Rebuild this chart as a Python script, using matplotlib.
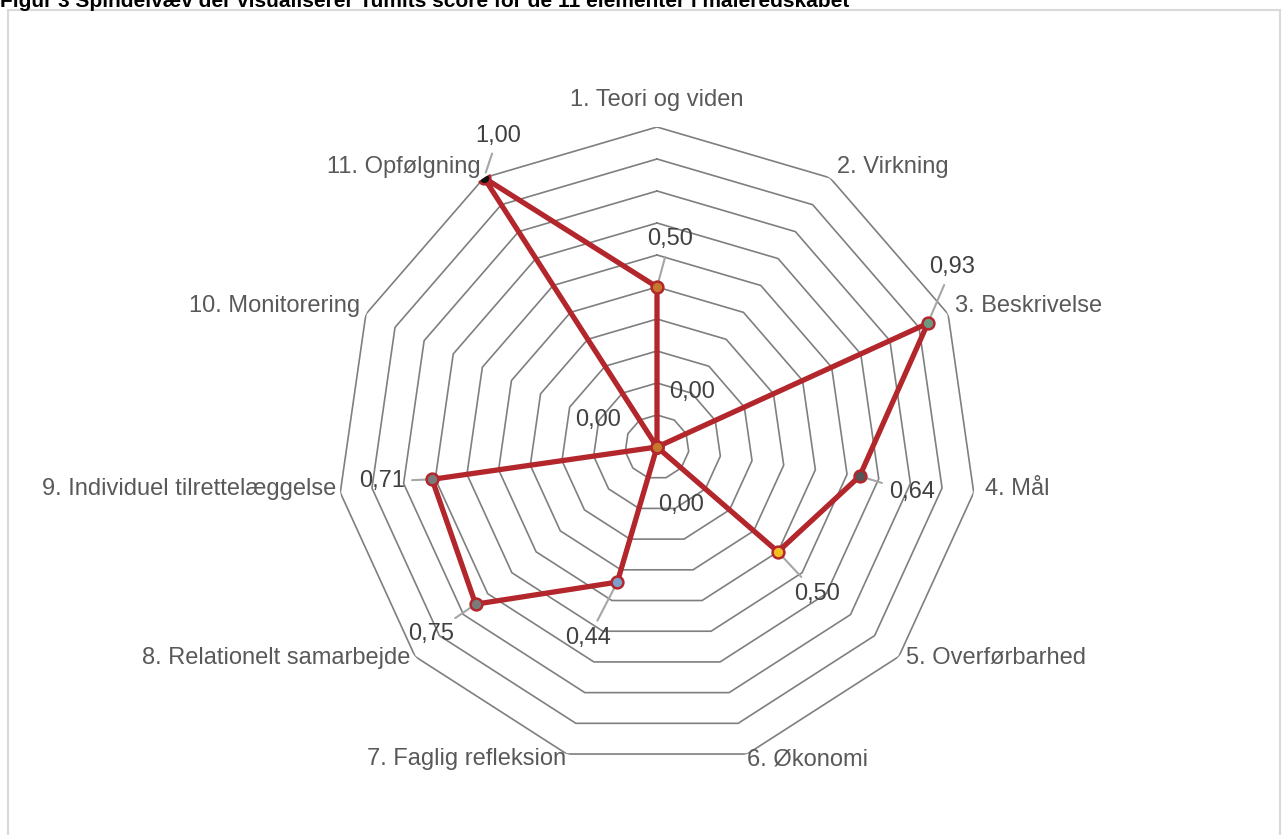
import numpy as np
import matplotlib.pyplot as plt
from matplotlib.patches import Rectangle

plt.rcParams["font.family"] = ["Liberation Sans", "DejaVu Sans"]

# ─────────────────────────────────────────────
# Spindelvæv — Tumits score for 11 elementer
# ─────────────────────────────────────────────

categories = ["1. Teori og viden", "2. Virkning", "3. Beskrivelse", "4. Mål",
              "5. Overførbarhed", "6. Økonomi", "7. Faglig refleksion",
              "8. Relationelt samarbejde", "9. Individuel tilrettelæggelse",
              "10. Monitorering", "11. Opfølgning"]
scores = [0.50, 0.00, 0.93, 0.64, 0.50, 0.00, 0.44, 0.75, 0.71, 0.00, 1.00]
ring_levels = [0.1, 0.2, 0.3, 0.4, 0.5, 0.6, 0.7, 0.8, 0.9, 1.0]

TITLE = "Figur 3 Spindelvæv der visualiserer Tumits score for de 11 elementer i måleredskabet"

LINE_COLOR = "#B2262C"
GRID_COLOR = "#7F7F7F"
LABEL_COLOR = "#595959"
VALUE_COLOR = "#404040"
LEADER_COLOR = "#A6A6A6"
MARKER_COLORS = ["#C8782C", "#C8782C", "#6C9A80", "#555555", "#F2C025",
                 "#C8782C", "#7C9FCB", "#7A7A7A", "#7A7A7A", "#C8782C", "#111111"]

FS = 17

# label placement (offset in pixels, alignment)
cat_offsets = [(0, 27, "center"), (7, 11, "left"), (7, 8, "left"), (11, 4, "left"),
               (7, -1, "left"), (0, -5, "left"), (-1, -5, "right"), (-5, -1, "right"),
               (-4, 4, "right"), (-6, 8, "right"), (-3, 11, "right")]
val_offsets = [(13, 48), (35, 55), (24, 56), (52, -16), (39, -42), (24, -58),
               (-29, -56), (-44, -30), (-50, -2), (-59, 27), (14, 42)]

n = len(categories)
theta = np.arange(n) * 2 * np.pi / n

fig = plt.figure(figsize=(12.83, 8.35), dpi=100)
fig.patches.append(Rectangle((8 / 1283, -0.05), 1272 / 1283, 1.05 - 10 / 835,
                             transform=fig.transFigure, fill=False,
                             edgecolor="#D9D9D9", linewidth=1.5, zorder=0))
fig.text(0.0, 1 - 1 / 835, TITLE, fontsize=15, fontweight="bold",
         ha="left", va="center", color="#000000")

ax = fig.add_axes([337 / 1283, 68 / 835, 640 / 1283, 640 / 835], polar=True)
ax.set_theta_zero_location("N")
ax.set_theta_direction(-1)
ax.set_ylim(0, 1)
ax.grid(False)
ax.set_xticks([])
ax.set_yticks([])
ax.spines["polar"].set_visible(False)
ax.patch.set_alpha(0)

closed = np.append(theta, theta[0])
for lvl in ring_levels:
    ax.plot(closed, [lvl] * (n + 1), color=GRID_COLOR, linewidth=1.2, zorder=1)

ax.plot(closed, scores + [scores[0]], color=LINE_COLOR, linewidth=3.8,
        zorder=3, solid_joinstyle="round")
for i in range(n):
    ax.plot(theta[i], scores[i], "o", markersize=8.5, markerfacecolor=MARKER_COLORS[i],
            markeredgecolor=LINE_COLOR, markeredgewidth=1.8, zorder=4)

# category labels
for i, lab in enumerate(categories):
    dx, dy, ha = cat_offsets[i]
    ax.annotate(lab, (theta[i], 1.0), xytext=(dx, dy), textcoords="offset pixels",
                ha=ha, va="center", fontsize=FS, color=LABEL_COLOR,
                annotation_clip=False)

# value labels with leader lines
for i, v in enumerate(scores):
    dx, dy = val_offsets[i]
    txt = f"{v:.2f}".replace(".", ",")
    arrow = None
    if v > 0:
        arrow = dict(arrowstyle="-", color=LEADER_COLOR, linewidth=1.5,
                     shrinkA=3, shrinkB=4)
    ax.annotate(txt, (theta[i], v), xytext=(dx, dy), textcoords="offset pixels",
                ha="center", va="center", fontsize=FS, color=VALUE_COLOR,
                arrowprops=arrow, zorder=2, annotation_clip=False)

plt.savefig("out.png", dpi=100)
plt.close()
